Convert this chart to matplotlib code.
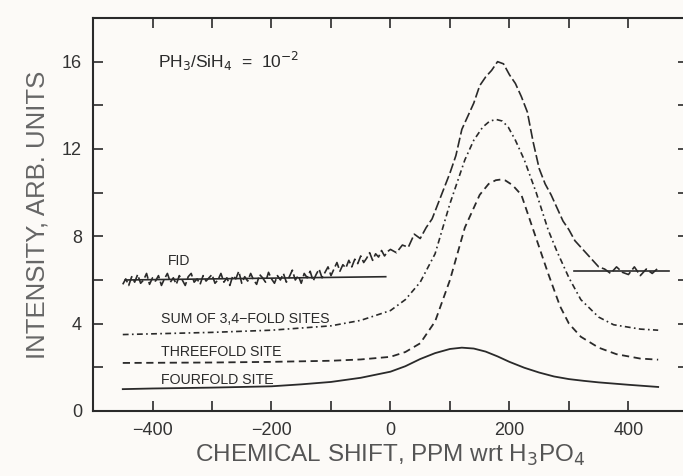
import numpy as np
import matplotlib
matplotlib.use("Agg")
import matplotlib.pyplot as plt
from matplotlib.ticker import MultipleLocator

plt.rcParams['font.family'] = ['Liberation Sans', 'DejaVu Sans']

# fourfold site (solid)
four_x = [-450, -400, -300, -200, -150, -100, -50, 0, 25, 50, 75, 100, 120,
          140, 160, 180, 200, 225, 250, 275, 300, 325, 350, 400, 450]
four_y = [1.0, 1.03, 1.07, 1.13, 1.22, 1.33, 1.52, 1.8, 2.05, 2.38, 2.65, 2.84, 2.9,
          2.86, 2.72, 2.5, 2.25, 1.98, 1.76, 1.58, 1.46, 1.38, 1.31, 1.2, 1.1]

# threefold site (dashed)
three_x = [-450, -300, -200, -100, -50, 0, 25, 50, 75, 100, 125, 150, 165, 177,
           185, 193, 205, 220, 240, 265, 285, 300, 320, 350, 380, 420, 450]
three_y = [2.2, 2.22, 2.25, 2.3, 2.36, 2.48, 2.7, 3.1, 4.1, 6.0, 8.4, 9.9, 10.4, 10.57,
           10.6, 10.56, 10.35, 9.9, 8.3, 6.3, 4.8, 4.0, 3.4, 2.9, 2.6, 2.4, 2.35]

# sum of 3,4-fold sites (dash-dot)
sum_x = [-450, -300, -200, -100, -50, 0, 25, 50, 75, 100, 125, 140, 155, 167, 178,
         188, 198, 210, 225, 245, 265, 280, 300, 320, 350, 375, 420, 450]
sum_y = [3.5, 3.6, 3.7, 3.9, 4.15, 4.6, 5.1, 5.9, 7.2, 9.5, 11.5, 12.4, 13.0, 13.28, 13.35,
         13.28, 13.0, 12.4, 11.5, 10.0, 8.3, 7.3, 6.1, 5.1, 4.3, 3.95, 3.75, 3.7]

# FID (measured, noisy)
fid_x = list(range(-450, 0, 5)) + list(range(0, 460, 10))
fid_y = [5.8, 6.05, 5.75, 6.15, 5.9, 6.25, 5.85, 6.0, 6.3, 5.8,
         6.1, 5.95, 6.2, 5.75, 6.05, 6.3, 5.9, 6.1, 5.8, 6.2,
         6.0, 5.75, 6.15, 6.3, 5.9, 6.05, 5.8, 6.2, 5.95, 6.1,
         6.25, 5.85, 6.0, 6.3, 5.9, 6.1, 5.75, 6.2, 6.05, 6.4,
         5.85, 6.15, 5.95, 6.3, 6.0, 5.8, 6.25, 6.1, 5.9, 6.35,
         6.05, 5.85, 6.2, 6.0, 6.3, 5.9, 6.15, 6.45, 6.0, 6.2,
         5.85, 6.3, 6.1, 6.4, 5.95, 6.25, 6.5, 6.1, 6.35, 6.6,
         6.2, 6.5, 6.8, 6.4, 6.7, 6.55, 6.9, 6.6, 6.95, 6.75,
         7.1, 6.8, 7.0, 7.25, 6.9, 7.2, 7.05, 7.35, 7.1, 7.3,
         7.4, 7.25, 7.6, 7.5, 8.1, 7.9, 8.4, 8.8, 9.5, 10.2,
         10.9, 11.7, 12.9, 13.5, 14.1, 14.9, 15.3, 15.6, 16.0, 15.9,
         15.4, 15.0, 14.4, 13.7, 12.3, 11.1, 10.4, 9.9, 9.3, 8.7,
         8.3, 7.8, 7.5, 7.2, 6.9, 6.6, 6.5, 6.3, 6.6, 6.35,
         6.25, 6.6, 6.2, 6.5, 6.3, 6.55]

# fitted FID baselines
base_left_x = [-446, -8]
base_left_y = [6.0, 6.15]
base_right_x = [308, 468]
base_right_y = [6.42, 6.42]

fig = plt.figure(figsize=(6.83, 4.76), dpi=100, facecolor='#fcfaf7')
ax = fig.add_axes([0.1362, 0.1366, 0.871, 0.8256])
ax.set_facecolor('#fcfaf7')

ink = '#2a2a2a'
ax.plot(four_x, four_y, color=ink, lw=1.3, ls='-')
ax.plot(three_x, three_y, color=ink, lw=1.3, dashes=(4, 2.5))
ax.plot(sum_x, sum_y, color=ink, lw=1.2, dashes=(3.5, 2, 1, 2))
ax.plot(fid_x, fid_y, color=ink, lw=1.2, dashes=(6, 2))
ax.plot(base_left_x, base_left_y, color=ink, lw=1.2)
ax.plot(base_right_x, base_right_y, color=ink, lw=1.2)

ax.set_xlim(-500, 500)
ax.set_ylim(0, 18)
ax.xaxis.set_major_locator(MultipleLocator(200))
ax.xaxis.set_minor_locator(MultipleLocator(100))
ax.yaxis.set_major_locator(MultipleLocator(4))
ax.yaxis.set_minor_locator(MultipleLocator(2))
ax.set_xticks([-400, -200, 0, 200, 400])
ax.set_xticklabels(['\u2212400', '\u2212200', '0', '200', '400'])
ax.tick_params(which='both', direction='in', top=True, right=True,
               length=7, width=1.2, color=ink, labelsize=13, labelcolor='#333333',
               pad=8)
for s in ax.spines.values():
    s.set_linewidth(1.5)
    s.set_color(ink)

ax.set_xlabel('CHEMICAL SHIFT, PPM wrt H$_3$PO$_4$', fontsize=17.5, color='#555555',
              labelpad=3)
ax.set_ylabel('INTENSITY, ARB. UNITS', fontsize=18.5, color='#666666', labelpad=9)

ax.text(-390, 16, 'PH$_3$/SiH$_4$  =  10$^{-2}$', fontsize=12.5, color=ink, va='center')
ax.text(-375, 6.85, 'FID', fontsize=10, color=ink, va='center')
ax.text(-385, 4.2, 'SUM OF 3,4\u2212FOLD SITES', fontsize=10.2, color=ink, va='center')
ax.text(-385, 2.7, 'THREEFOLD SITE', fontsize=10.2, color=ink, va='center')
ax.text(-385, 1.4, 'FOURFOLD SITE', fontsize=10.2, color=ink, va='center')

fig.savefig('out.png', dpi=100, facecolor=fig.get_facecolor())
